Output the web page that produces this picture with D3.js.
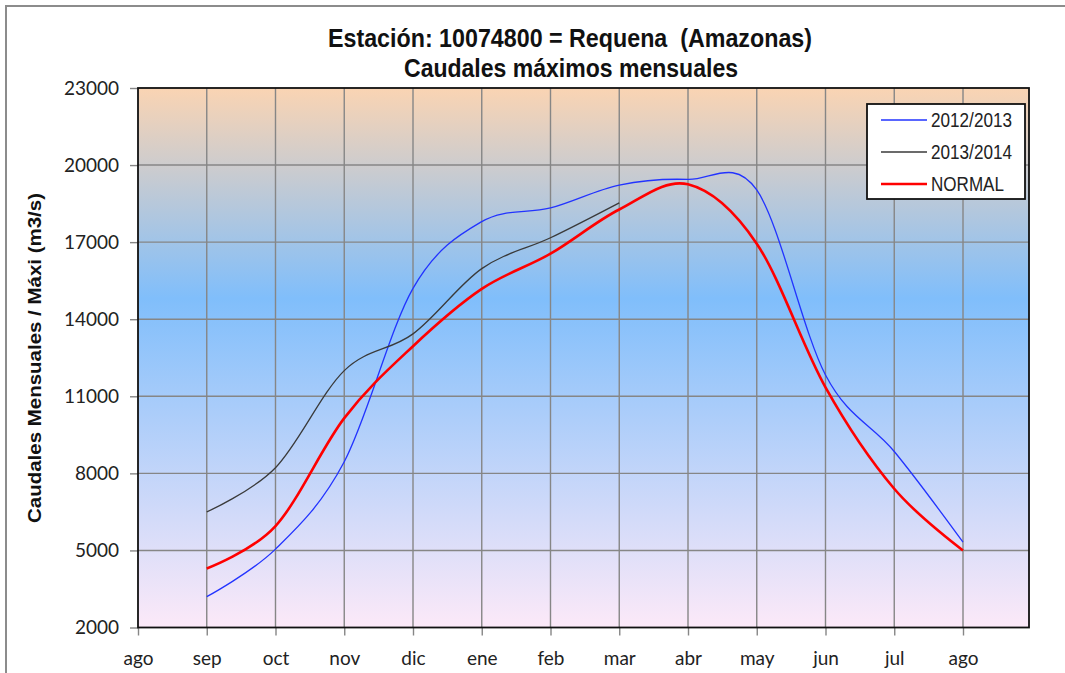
<!DOCTYPE html>
<html>
<head>
<meta charset="utf-8">
<script src="https://cdn.jsdelivr.net/npm/d3@7"></script>
<style>
  html, body { margin: 0; padding: 0; background: #fff; }
  svg { display: block; }
</style>
</head>
<body>
<svg id="chart" width="1065" height="673"></svg>
<script>
// Month labels along the hydrological year (ago -> ago)
const months = ["ago", "sep", "oct", "nov", "dic", "ene", "feb", "mar", "abr", "may", "jun", "jul", "ago"];
// Y axis tick values (m3/s)
const yTicks = [2000, 5000, 8000, 11000, 14000, 17000, 20000, 23000];

// Monthly maximum discharge, starting in September (month index 1)
const serie20122013 = [3200, 5050, 8450, 15200, 17800, 18330, 19220, 19440, 19030, 11830, 8850, 5320];
const serie20132014 = [6500, 8220, 12000, 13430, 15970, 17170, 18530];
const serieNormal   = [4300, 5950, 10150, 12950, 15180, 16550, 18270, 19250, 16940, 11350, 7400, 5000];

const seriesNames = ["2012/2013", "2013/2014", "NORMAL"];
const seriesColors = ["#2233ff", "#3a3a3a", "#ff0000"];
const seriesWidths = [1.3, 1.3, 2.6];
const seriesData = [serie20122013, serie20132014, serieNormal];

const svg = d3.select("#chart");
const plot = { left: 138, right: 1029, top: 88, bottom: 627.5 };

const x = d3.scaleLinear().domain([0, 12.96]).range([plot.left, plot.right]);
const y = d3.scaleLinear().domain([2000, 23000]).range([plot.bottom, plot.top]);

// Outer chart frame
svg.append("rect")
  .attr("x", 6).attr("y", 6).attr("width", 1100).attr("height", 700)
  .attr("fill", "#fff").attr("stroke", "#8c8c8c").attr("stroke-width", 2);

// Background gradient of the plot area
const defs = svg.append("defs");
const grad = defs.append("linearGradient").attr("id", "bg")
  .attr("x1", 0).attr("y1", 0).attr("x2", 0).attr("y2", 1);
grad.append("stop").attr("offset", "0").attr("stop-color", "#fad4b3");
grad.append("stop").attr("offset", "0.39").attr("stop-color", "#80befb");
grad.append("stop").attr("offset", "1").attr("stop-color", "#fce9f8");

svg.append("rect")
  .attr("x", plot.left).attr("y", plot.top)
  .attr("width", plot.right - plot.left).attr("height", plot.bottom - plot.top)
  .attr("fill", "url(#bg)");

// Grid lines
const grid = svg.append("g").attr("stroke", "#868686").attr("stroke-width", 1.4);
grid.selectAll("line.h").data(yTicks.slice(1, -1)).join("line")
  .attr("x1", plot.left).attr("x2", plot.right)
  .attr("y1", d => y(d)).attr("y2", d => y(d));
grid.selectAll("line.v").data(d3.range(1, months.length)).join("line")
  .attr("x1", d => x(d)).attr("x2", d => x(d))
  .attr("y1", plot.top).attr("y2", plot.bottom);

// Axes
const yAxis = svg.append("g")
  .attr("transform", `translate(${plot.left},0)`)
  .call(d3.axisLeft(y).tickValues(yTicks).tickFormat(d3.format("d")).tickSize(8).tickPadding(11));
const xAxis = svg.append("g")
  .attr("transform", `translate(0,${plot.bottom})`)
  .call(d3.axisBottom(x).tickValues(d3.range(months.length)).tickFormat(i => months[i]).tickSize(8).tickPadding(16));

[yAxis, xAxis].forEach(a => {
  a.select(".domain").remove();
  a.selectAll(".tick line").attr("stroke", "#868686").attr("stroke-width", 1.4);
  a.selectAll(".tick text")
    .attr("fill", "#222")
    .style("font-family", "Lato, 'Open Sans', sans-serif")
    .style("font-size", "19px");
});
xAxis.selectAll(".tick text").attr("dy", "0.71em");

// Plot border
svg.append("rect")
  .attr("x", plot.left).attr("y", plot.top)
  .attr("width", plot.right - plot.left).attr("height", plot.bottom - plot.top)
  .attr("fill", "none").attr("stroke", "#111").attr("stroke-width", 1.8);

// Series lines (smoothed)
const line = d3.line()
  .x((d, i) => x(i + 1))
  .y(d => y(d))
  .curve(d3.curveCardinal.tension(0));

svg.append("g").selectAll("path").data(seriesData).join("path")
  .attr("d", d => line(d))
  .attr("fill", "none")
  .attr("stroke", (d, i) => seriesColors[i])
  .attr("stroke-width", (d, i) => seriesWidths[i])
  .attr("stroke-linejoin", "round");

// Titles (condensed bold)
const titleFont = "'Liberation Sans Narrow', 'Arial Narrow', 'Liberation Sans', Arial, sans-serif";
svg.append("text")
  .attr("x", 570).attr("y", 47)
  .attr("text-anchor", "middle")
  .attr("xml:space", "preserve")
  .attr("textLength", 484).attr("lengthAdjust", "spacingAndGlyphs")
  .style("font-family", titleFont).style("font-weight", "bold").style("font-size", "26px")
  .attr("fill", "#111")
  .text("Estación: 10074800 = Requena  (Amazonas)");
svg.append("text")
  .attr("x", 571).attr("y", 77)
  .attr("text-anchor", "middle")
  .attr("textLength", 334).attr("lengthAdjust", "spacingAndGlyphs")
  .style("font-family", titleFont).style("font-weight", "bold").style("font-size", "26px")
  .attr("fill", "#111")
  .text("Caudales máximos mensuales");

// Y axis title
svg.append("text")
  .attr("transform", "translate(40.5,358) rotate(-90)")
  .attr("text-anchor", "middle")
  .attr("textLength", 330).attr("lengthAdjust", "spacingAndGlyphs")
  .style("font-family", "'Liberation Sans', Arial, sans-serif").style("font-weight", "bold").style("font-size", "19px")
  .attr("fill", "#111")
  .text("Caudales Mensuales / Máxi (m3/s)");

// Legend
const legendTextWidths = [81, 81, 73];
const legend = svg.append("g");
legend.append("rect")
  .attr("x", 867).attr("y", 104).attr("width", 158).attr("height", 95)
  .attr("fill", "#fff").attr("stroke", "#111").attr("stroke-width", 1.8);
const rows = legend.selectAll("g.row").data(seriesNames).join("g")
  .attr("transform", (d, i) => `translate(0,${120 + i * 32})`);
rows.append("line")
  .attr("x1", 881).attr("x2", 927).attr("y1", 0).attr("y2", 0)
  .attr("stroke", (d, i) => seriesColors[i])
  .attr("stroke-width", (d, i) => seriesWidths[i]);
rows.append("text")
  .attr("x", 931).attr("y", 7)
  .attr("textLength", (d, i) => legendTextWidths[i]).attr("lengthAdjust", "spacingAndGlyphs")
  .style("font-family", titleFont).style("font-size", "20px")
  .attr("fill", "#222")
  .text(d => d);
</script>
</body>
</html>
